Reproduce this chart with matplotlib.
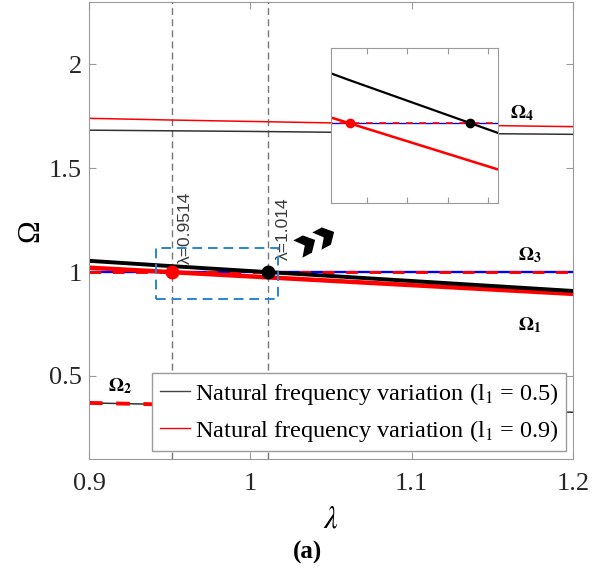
import numpy as np
import matplotlib
matplotlib.use("Agg")
import matplotlib.pyplot as plt
from matplotlib.patches import Rectangle

plt.rcParams["font.family"] = "Liberation Serif"
plt.rcParams["mathtext.fontset"] = "stix"

# values
lam = [0.90, 0.95, 1.00, 1.05, 1.10, 1.15, 1.20]
om1_l05 = [1.054, 1.029, 1.005, 0.981, 0.957, 0.933, 0.909]
om1_l09 = [1.021, 1.000, 0.979, 0.958, 0.937, 0.916, 0.895]
om2_l05 = [0.370, 0.362, 0.355, 0.348, 0.340, 0.333, 0.325]
om2_l09 = [0.370, 0.362, 0.355, 0.348, 0.340, 0.333, 0.325]
om4_l05 = [1.683, 1.680, 1.677, 1.673, 1.670, 1.666, 1.663]
om4_l09 = [1.740, 1.732, 1.725, 1.718, 1.711, 1.705, 1.700]
om3 = [1.0, 1.0, 1.0, 1.0, 1.0, 1.0, 1.0]

cross_red = 0.9514
cross_black = 1.011
cross_labels = ["λ=0.9514", "λ=1.014"]

zoom_box = (0.9416, 0.869, 1.0174, 1.117)  # x0, y0, x1, y1
inset_xlim = (0.942, 1.025)
inset_ylim = (0.946, 1.05)

mode_names = [r"$\mathbf{\Omega_4}$", r"$\mathbf{\Omega_3}$",
              r"$\mathbf{\Omega_1}$", r"$\mathbf{\Omega_2}$"]
mode_pos = [(1.161, 1.764), (1.166, 1.08), (1.166, 0.745), (0.912, 0.452)]

# chevron pointer towards the inset
chevron_pos = [(1.0345, 1.137), (1.0465, 1.172)]

spine_col = "#9a9a9a"

fig = plt.figure(figsize=(6.1, 5.71), dpi=100)
ax = fig.add_axes([89/610, 1 - 459/571, 484/610, 457/571])


def draw_curves(a, lw_thin, lw_thick, ms):
    a.plot(lam, om4_l05, color="#333333", lw=lw_thin)
    a.plot(lam, om4_l09, color="red", lw=lw_thin)
    a.plot(lam, om2_l05, color="#333333", lw=lw_thin)
    a.plot(lam, om2_l09, color="red", lw=lw_thick, ls=(0, (3.5, 3.5)))
    a.plot(lam, om3, color="blue", lw=lw_thick * 0.6)
    a.plot(lam, om3, color="red", lw=lw_thick * 0.75, ls=(0, (4, 4)))
    a.plot(lam, om1_l09, color="red", lw=lw_thick * 1.15)
    a.plot(lam, om1_l05, color="black", lw=lw_thick)
    a.plot(cross_red, 1.0, "o", color="red", ms=ms)
    a.plot(cross_black, 1.0, "o", color="black", ms=ms)


draw_curves(ax, 1.1, 2.8, 9)

# dashed markers for the crossing points
for xv in (cross_red, cross_black):
    ax.axvline(xv, color="#777777", lw=1.0, ls=(0, (5, 3)), zorder=1)

ax.text(cross_red + 0.0085, 1.04, cross_labels[0], rotation=90, ha="center",
        va="bottom", family="Liberation Sans", fontsize=12.5, color="#3a3a3a")
ax.text(cross_black + 0.0093, 1.058, cross_labels[1], rotation=90, ha="center",
        va="bottom", family="Liberation Sans", fontsize=12.5, color="#3a3a3a")

x0, y0, x1, y1 = zoom_box
ax.add_patch(Rectangle((x0, y0), x1 - x0, y1 - y0, fill=False,
                       edgecolor="#2a86d0", lw=1.4, ls=(0, (5, 3)), zorder=5))

# heavy chevron shape, tilted up towards the inset
chev = np.array([(-1.0, 1.0), (0.1, 1.0), (1.0, 0.0), (0.1, -1.0),
                 (-1.0, -1.0), (-0.2, 0.0), (-1.0, 1.0)])
ang = np.deg2rad(28)
rot = np.array([[np.cos(ang), -np.sin(ang)], [np.sin(ang), np.cos(ang)]])
chev = chev @ rot.T
for cx, cy in chevron_pos:
    ax.plot(cx, cy, marker=chev, ms=19, color="black", mew=0, zorder=6)

for name, (px, py) in zip(mode_names, mode_pos):
    ax.text(px, py, name, fontsize=14, ha="left", va="center")

# legend proxies
h1, = ax.plot([], [], color="#444444", lw=1.0)
h2, = ax.plot([], [], color="red", lw=1.0)
leg = ax.legend([h1, h2],
                [r"Natural frequency variation (l$_\mathrm{1}$ = 0.5)",
                 r"Natural frequency variation (l$_\mathrm{1}$ = 0.9)"],
                loc="lower right", bbox_to_anchor=(0.9855, 0.0175),
                fontsize=17.5, frameon=True, fancybox=False, framealpha=1,
                edgecolor=spine_col, handlelength=1.25, handletextpad=0.2,
                borderpad=0.3, labelspacing=0.45, borderaxespad=0)
leg.get_frame().set_linewidth(1.0)
leg.set_zorder(10)

ax.set_xlim(0.9, 1.2)
ax.set_ylim(0.1, 2.3)
ax.set_xticks([0.9, 1.0, 1.1, 1.2])
ax.set_xticklabels(["0.9", "1", "1.1", "1.2"])
ax.set_yticks([0.5, 1.0, 1.5, 2.0])
ax.set_yticklabels(["0.5", "1", "1.5", "2"])
ax.tick_params(direction="in", top=True, right=True, length=5,
               color=spine_col, labelsize=19, labelcolor="#262626")
ax.tick_params(axis="x", pad=10)
ax.tick_params(axis="y", pad=5)
for s in ax.spines.values():
    s.set_color(spine_col)
ax.set_xlabel(r"$\lambda$", fontsize=22, labelpad=8)
ax.set_ylabel("Ω", fontsize=22, labelpad=3)

# zoomed inset
axi = fig.add_axes([331/610, 1 - 203/571, 167/610, 155/571])
draw_curves(axi, 1.6, 1.6, 6)
axi.set_xlim(*inset_xlim)
axi.set_ylim(*inset_ylim)
axi.set_xticks([0.96, 0.98, 1.0, 1.02])
axi.set_xticklabels([])
axi.set_yticks([])
axi.tick_params(direction="in", top=True, length=4, color=spine_col)
for s in axi.spines.values():
    s.set_color(spine_col)

fig.text(307/610, 1 - 552/571, "(a)", fontsize=18, fontweight="bold",
         ha="center", va="center")

fig.savefig("out.png", dpi=100)
